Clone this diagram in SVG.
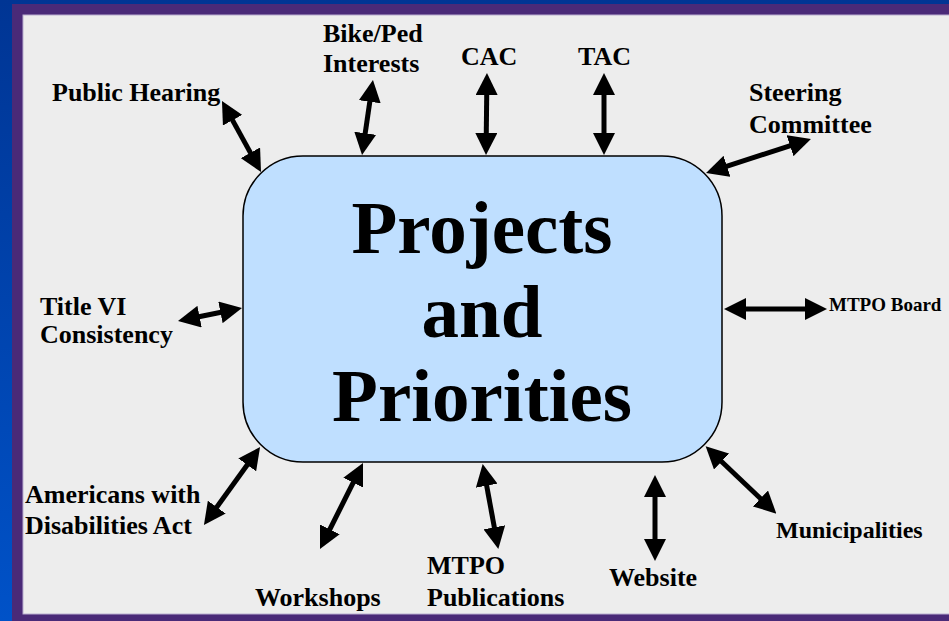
<svg xmlns="http://www.w3.org/2000/svg" width="949" height="621" viewBox="0 0 949 621">
  <defs>
    <linearGradient id="bg" x1="0" y1="0" x2="0" y2="1">
      <stop offset="0" stop-color="#003594"/>
      <stop offset="1" stop-color="#0052c8"/>
    </linearGradient>
    <marker id="ah" viewBox="0 0 22 22" refX="7" refY="11" markerWidth="22" markerHeight="22" markerUnits="userSpaceOnUse" orient="auto-start-reverse">
      <path d="M0,0 L22,11 L0,22 z" fill="#000"/>
    </marker>
    <style>
      .lbl { font-family: "Liberation Serif", "Times New Roman", serif; font-weight: bold; font-size: 26px; fill: #000; }
      .small { font-size: 19px; }
      .mid { font-size: 24px; }
      .big { font-family: "Liberation Serif", "Times New Roman", serif; font-weight: bold; font-size: 75px; fill: #000; text-anchor: middle; }
      .arr { stroke: #000; stroke-width: 5; fill: none; marker-start: url(#ah); marker-end: url(#ah); }
    </style>
  </defs>

  <rect x="0" y="0" width="949" height="621" fill="url(#bg)"/>
  <rect x="12" y="4" width="937" height="617" fill="#4a2a78"/>
  <rect x="23" y="15" width="930" height="599" fill="#ededed" stroke="#b9aed0" stroke-width="1"/>

  <g id="center">
    <rect x="243" y="156" width="479" height="306" rx="60" ry="60" fill="#bfdfff" stroke="#000" stroke-width="1.5"/>
    <text class="big" x="482" y="253">Projects</text>
    <text class="big" x="482" y="337">and</text>
    <text class="big" x="482" y="421">Priorities</text>
  </g>

  <g id="connectors">
    <line class="arr" x1="229.2" y1="114.1" x2="253.8" y2="158.9"/>
    <line class="arr" x1="370.8" y1="94.8" x2="364.2" y2="140.2"/>
    <line class="arr" x1="486.8" y1="88" x2="486.2" y2="140"/>
    <line class="arr" x1="604" y1="88" x2="604" y2="140"/>
    <line class="arr" x1="720.3" y1="168.4" x2="796.7" y2="143.6"/>
    <line class="arr" x1="739" y1="309" x2="812" y2="309"/>
    <line class="arr" x1="192.7" y1="318" x2="227.3" y2="311"/>
    <line class="arr" x1="251.3" y1="459.2" x2="212.7" y2="512.8"/>
    <line class="arr" x1="356.3" y1="476.4" x2="326.7" y2="535.6"/>
    <line class="arr" x1="485.4" y1="478.8" x2="495.6" y2="534.2"/>
    <line class="arr" x1="655" y1="490" x2="655" y2="546"/>
    <line class="arr" x1="716.5" y1="456.7" x2="765.5" y2="503.3"/>
  </g>

  <g id="public-hearing"><text class="lbl" x="52" y="101">Public Hearing</text></g>
  <g id="bike-ped"><text class="lbl" x="323" y="42">Bike/Ped</text><text class="lbl" x="323" y="72">Interests</text></g>
  <g id="cac"><text class="lbl" x="461" y="65">CAC</text></g>
  <g id="tac"><text class="lbl" x="578" y="65">TAC</text></g>
  <g id="steering"><text class="lbl" x="749" y="101">Steering</text><text class="lbl" x="749" y="133">Committee</text></g>
  <g id="mtpo-board"><text class="lbl small" x="829" y="311">MTPO Board</text></g>
  <g id="title-vi"><text class="lbl" x="40" y="315">Title VI</text><text class="lbl" x="40" y="343">Consistency</text></g>
  <g id="ada"><text class="lbl" x="25" y="503">Americans with</text><text class="lbl" x="25" y="534">Disabilities Act</text></g>
  <g id="workshops"><text class="lbl" x="255" y="606">Workshops</text></g>
  <g id="mtpo-pub"><text class="lbl" x="427" y="574">MTPO</text><text class="lbl" x="427" y="606">Publications</text></g>
  <g id="website"><text class="lbl" x="609" y="586">Website</text></g>
  <g id="municipalities"><text class="lbl mid" x="776" y="538">Municipalities</text></g>
</svg>
